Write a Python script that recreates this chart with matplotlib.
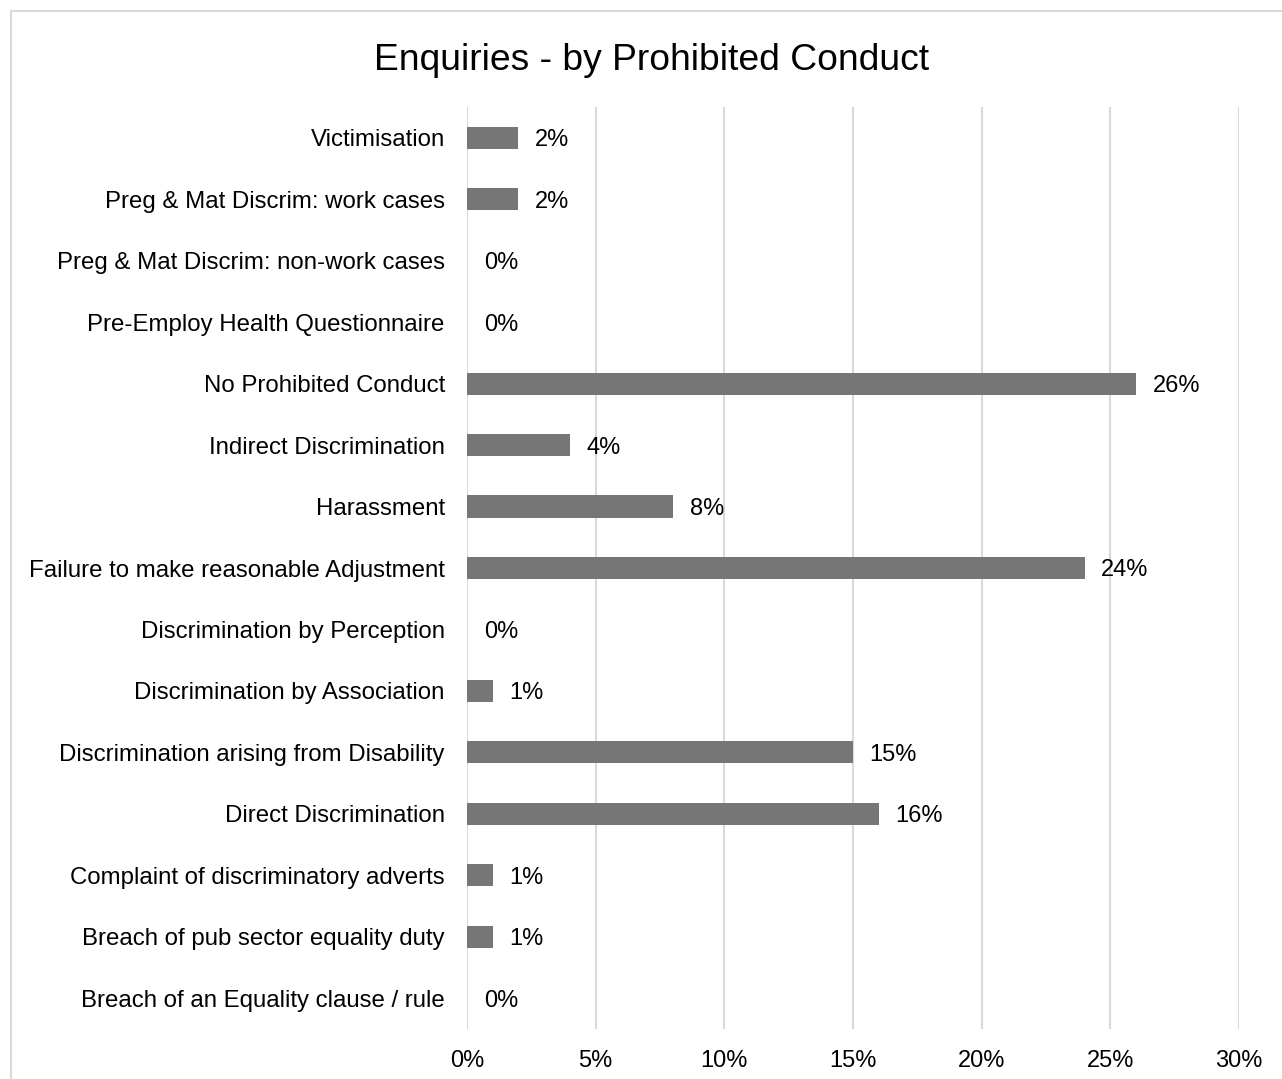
import matplotlib
matplotlib.use("Agg")
import matplotlib.pyplot as plt
from matplotlib.patches import Rectangle
from matplotlib.ticker import FuncFormatter

# data, listed top to bottom as in the chart
categories = [
    "Victimisation",
    "Preg & Mat Discrim: work cases",
    "Preg & Mat Discrim: non-work cases",
    "Pre-Employ Health Questionnaire",
    "No Prohibited Conduct",
    "Indirect Discrimination",
    "Harassment",
    "Failure to make reasonable Adjustment",
    "Discrimination by Perception",
    "Discrimination by Association",
    "Discrimination arising from Disability",
    "Direct Discrimination",
    "Complaint of discriminatory adverts",
    "Breach of pub sector equality duty",
    "Breach of an Equality clause / rule",
]
values = [2, 2, 0, 0, 26, 4, 8, 24, 0, 1, 15, 16, 1, 1, 0]
x_ticks = [0, 5, 10, 15, 20, 25, 30]

plt.rcParams['font.family'] = ['Liberation Sans', 'DejaVu Sans']

fig = plt.figure(figsize=(12.82, 10.79), dpi=100)
ax = fig.add_axes([467 / 1282, 50 / 1079, 772 / 1282, 922 / 1079])

# light frame round the whole chart
fig.patches.append(Rectangle((11 / 1282, -0.1), 1.2, 1 - 11 / 1079 + 0.1,
                             transform=fig.transFigure, fill=False,
                             edgecolor='#d9d9d9', linewidth=1.5))

pos = list(range(len(categories)))
ax.barh(pos, values, height=0.36, color='#767676', zorder=3)

for p, v in zip(pos, values):
    ax.annotate(f"{v}%", (v, p), xytext=(12, 0), textcoords='offset points',
                va='center_baseline', ha='left', fontsize=17, color='black')

ax.set_xlim(0, 30)
ax.set_ylim(len(categories) - 0.5, -0.5)
ax.set_yticks(pos)
ax.set_yticklabels(categories, fontsize=17.3)
for lbl in ax.get_yticklabels():
    lbl.set_va('center_baseline')
ax.set_xticks(x_ticks)
ax.xaxis.set_major_formatter(FuncFormatter(lambda x, _: f"{x:.0f}%"))
ax.tick_params(axis='x', labelsize=17, length=0, pad=15)
ax.tick_params(axis='y', length=0, pad=16)
ax.grid(axis='x', color='#d9d9d9', linewidth=1.5, zorder=0)
for s in ax.spines.values():
    s.set_visible(False)

fig.text(652 / 1282, 1 - 56 / 1079, "Enquiries - by Prohibited Conduct",
         ha='center', va='center_baseline', fontsize=26.8)

fig.savefig("out.png", dpi=100)
